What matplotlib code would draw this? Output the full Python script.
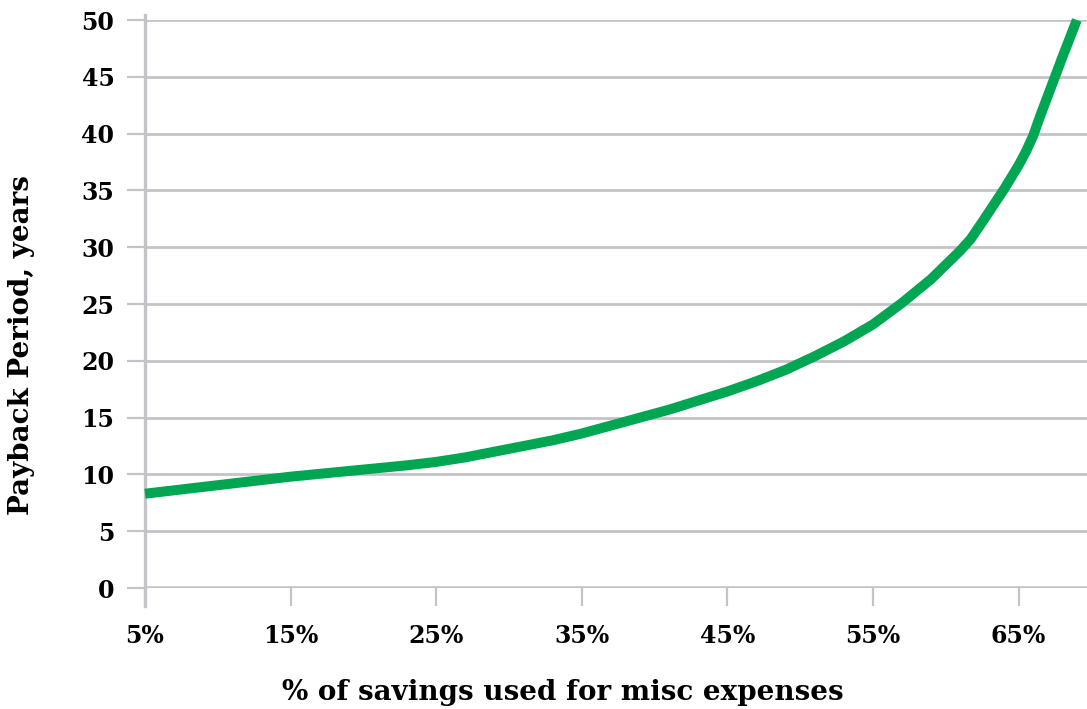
import matplotlib
matplotlib.use("Agg")
import matplotlib.pyplot as plt
from matplotlib.ticker import FuncFormatter

# share of savings used for misc expenses (%) vs payback period (years)
pct_used = [5, 7, 9, 11, 13, 15, 17, 19, 21, 23, 25, 27, 29, 31, 33, 35, 37,
            39, 41, 43, 45, 47, 49, 51, 53, 55, 57, 59, 61, 61.7, 62.5,
            64, 65, 65.5, 66, 66.5, 67, 68, 69]
payback_years = [8.3, 8.6, 8.9, 9.2, 9.5, 9.8, 10.05, 10.3, 10.55, 10.8, 11.1,
                 11.5, 12.0, 12.5, 13.0, 13.6, 14.3, 15.0, 15.7, 16.5, 17.3,
                 18.2, 19.2, 20.4, 21.7, 23.2, 25.1, 27.2, 29.7, 30.7, 32.2,
                 35.1, 37.2, 38.4, 39.8, 41.6, 43.3, 46.7, 50.0]
x_ticks = [5, 15, 25, 35, 45, 55, 65]
y_ticks = [0, 5, 10, 15, 20, 25, 30, 35, 40, 45, 50]

GREEN = "#00a651"
GRID = "#c4c4c8"
FONT = ["DejaVu Serif"]

plt.rcParams.update({"font.family": FONT, "font.weight": "bold"})
fig = plt.figure(figsize=(10.87, 7.09), dpi=100)
ax = fig.add_axes([145 / 1087, 1 - 588 / 709, 942 / 1087, 568 / 709])

ax.plot(pct_used, payback_years, color=GREEN, linewidth=7.2,
        solid_capstyle="butt", solid_joinstyle="round", zorder=3, clip_on=False)

ax.set_xlim(5, 69.7)
ax.set_ylim(0, 50)
ax.set_xticks(x_ticks)
ax.set_yticks(y_ticks)
ax.xaxis.set_major_formatter(FuncFormatter(lambda v, _: f"{v:.0f}%"))
ax.grid(True, axis="y", color=GRID, linewidth=2.0, zorder=1)
ax.tick_params(axis="both", length=13, width=1.6, color=GRID,
               labelsize=17, direction="out")
ax.tick_params(axis="x", pad=13)
ax.tick_params(axis="y", pad=9)
for lab in ax.get_xticklabels() + ax.get_yticklabels():
    lab.set_fontweight("bold")

for s in ax.spines.values():
    s.set_visible(False)
# left axis line runs a little past the plot area at both ends
ax.axvline(5, ymin=-0.032, ymax=1.009, color=GRID, linewidth=2.4,
           clip_on=False, zorder=2)
ax.axhline(0, color=GRID, linewidth=2.6, zorder=2)

fig.text(563 / 1087, 1 - 692 / 709, "% of savings used for misc expenses",
         ha="center", va="center", fontsize=20, fontweight="bold")
fig.text(22 / 1087, 1 - 345 / 709, "Payback Period, years", rotation=90,
         ha="center", va="center", fontsize=20, fontweight="bold")

fig.savefig("out.png", dpi=100)
